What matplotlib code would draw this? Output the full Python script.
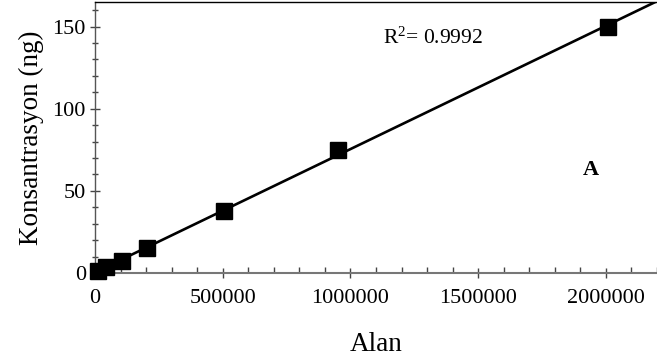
import numpy as np
import matplotlib
matplotlib.use("Agg")
import matplotlib.pyplot as plt
from matplotlib.ticker import MultipleLocator

alan = [10000, 45000, 105000, 205000, 505000, 950000, 2010000]
konsantrasyon = [1.5, 3.75, 7.5, 15, 37.5, 75, 150]
r2_text = r"R$^2$= 0.9992"
panel_label = "A"
xticks = [0, 500000, 1000000, 1500000, 2000000]
yticks = [0, 50, 100, 150]

plt.rcParams['font.family'] = ['Liberation Serif', 'DejaVu Serif']
plt.rcParams['mathtext.fontset'] = 'custom'
plt.rcParams['mathtext.rm'] = 'Liberation Serif'
plt.rcParams['mathtext.it'] = 'Liberation Serif:italic'
plt.rcParams['mathtext.default'] = 'regular'

fig = plt.figure(figsize=(6.57, 3.61), dpi=100)
ax = fig.add_axes([95/657, 1 - 273/361, 1 - 95/657, (273 - 2)/361])

slope, intercept = np.polyfit(alan, konsantrasyon, 1)
xl = np.array([0, 2200000])
ax.plot(xl, slope * xl + intercept, color='black', lw=1.9, zorder=2)
ax.plot(alan, konsantrasyon, 's', color='black', ms=11, zorder=3, clip_on=False)

ax.set_xlim(0, 2200000)
ax.set_ylim(0, 165)
ax.set_xticks(xticks)
ax.set_xticklabels([str(v) for v in xticks])
ax.set_yticks(yticks)
ax.xaxis.set_minor_locator(MultipleLocator(100000))
ax.yaxis.set_minor_locator(MultipleLocator(10))

ax.spines['right'].set_visible(False)
ax.spines['bottom'].set_color('#777777')
ax.spines['bottom'].set_linewidth(1.5)
ax.spines['left'].set_color('#555555')
ax.spines['left'].set_linewidth(1.0)
ax.spines['top'].set_linewidth(1.0)

ax.tick_params(axis='x', which='major', direction='inout', length=7, width=1, color='#444444',
               labelsize=16, pad=8)
ax.tick_params(axis='x', which='minor', direction='in', length=4, width=1, color='#444444')
ax.tick_params(axis='y', which='major', direction='inout', length=7, width=1, color='#444444',
               labelsize=16, pad=3)
ax.tick_params(axis='y', which='minor', direction='inout', length=4, width=1, color='#444444')

ax.set_xlabel("Alan", fontsize=19.5, labelpad=17)
ax.set_ylabel("Konsantrasyon (ng)", fontsize=19.5, labelpad=6)

ax.text(383/657, 1 - 38/361, r2_text, transform=fig.transFigure, fontsize=15.5,
        ha='left', va='center')
ax.text(591/657, 1 - 170/361, panel_label, transform=fig.transFigure, fontsize=16,
        fontweight='bold', ha='center', va='center')

fig.savefig("out.png", dpi=100)
